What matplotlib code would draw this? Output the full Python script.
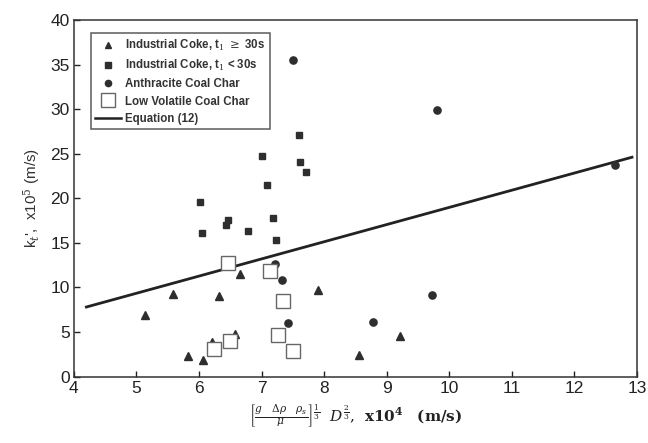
import matplotlib
matplotlib.use("Agg")
import matplotlib.pyplot as plt
import numpy as np
from matplotlib.lines import Line2D

plt.rcParams['font.family'] = ['Liberation Sans', 'DejaVu Sans']
plt.rcParams['mathtext.fontset'] = 'dejavuserif'

# Industrial Coke, t1 >= 30s (triangles)
tri_x = [5.14, 5.59, 5.83, 6.07, 6.20, 6.32, 6.58, 6.66, 7.90, 8.55, 9.22]
tri_y = [6.92, 9.27, 2.32, 1.84, 3.92, 9.05, 4.82, 11.5, 9.72, 2.40, 4.56]
# Industrial Coke, t1 < 30s (filled squares)
sq_x = [7.60, 7.00, 7.62, 7.71, 7.09, 6.01, 7.18, 6.47, 6.43, 6.05, 6.79, 7.23]
sq_y = [27.06, 24.78, 24.07, 22.98, 21.49, 19.59, 17.79, 17.57, 16.97, 16.07, 16.30, 15.32]
# Anthracite Coal Char (circles)
ci_x = [7.51, 7.22, 7.33, 7.42, 8.78, 9.72, 9.80, 12.65]
ci_y = [35.5, 12.6, 10.8, 6.02, 6.17, 9.16, 29.86, 23.7]
# Low Volatile Coal Char (open squares)
os_x = [6.46, 7.14, 7.34, 6.49, 6.24, 7.27, 7.50]
os_y = [12.71, 11.82, 8.49, 4.04, 3.10, 4.67, 2.88]
# Equation (12)
eq_x = [4.20, 12.92]
eq_y = [7.8, 24.6]

xticks = [4, 5, 6, 7, 8, 9, 10, 11, 12, 13]
yticks = [0, 5, 10, 15, 20, 25, 30, 35, 40]

fig = plt.figure(figsize=(6.48, 4.43), dpi=100)
ax = fig.add_axes([0.114, 0.150, 0.869, 0.805])

mc = '#2e2e2e'
ax.plot(eq_x, eq_y, '-', color='#222222', lw=2.0, zorder=2)
ax.plot(tri_x, tri_y, '^', color=mc, ms=6, ls='none', zorder=3)
ax.plot(sq_x, sq_y, 's', color=mc, ms=4.5, ls='none', zorder=3)
ax.plot(ci_x, ci_y, 'o', color=mc, ms=5.2, ls='none', zorder=3)
ax.plot(os_x, os_y, 's', mfc='white', mec='#666666', mew=1.0, ms=9.5, ls='none', zorder=3)

ax.set_xlim(4, 13)
ax.set_ylim(0, 40)
ax.set_xticks(xticks)
ax.set_yticks(yticks)
ax.tick_params(direction='in', length=4, width=1, labelsize=12.5, colors='#222222',
               top=False, right=False, pad=3)
for s in ax.spines.values():
    s.set_linewidth(1.1)
    s.set_color('#333333')

ax.set_ylabel(r"k$_t$',  x10$^5$ (m/s)", fontsize=11, color='#333333', labelpad=6)
ax.set_xlabel(r"$\left[\frac{g\quad\Delta\rho\quad\rho_s}{\mu}\right]^{\frac{1}{3}}\ \ D^{\frac{2}{3}}$,  $\mathbf{x10^4}$   $\mathbf{(m/s)}$",
              fontsize=11, color='#222222', family='DejaVu Serif', labelpad=5)

handles = [
    Line2D([], [], marker='^', color=mc, ls='none', ms=5),
    Line2D([], [], marker='s', color=mc, ls='none', ms=4),
    Line2D([], [], marker='o', color=mc, ls='none', ms=4.5),
    Line2D([], [], marker='s', mfc='white', mec='#666666', ls='none', ms=10),
    Line2D([], [], color='#222222', lw=1.8),
]
labels = [r"Industrial Coke, t$_1$ $\geq$ 30s", r"Industrial Coke, t$_1$ < 30s",
          "Anthracite Coal Char", "Low Volatile Coal Char", "Equation (12)"]
leg = ax.legend(handles, labels, loc='upper left', bbox_to_anchor=(0.03, 0.963),
                fontsize=8.3, frameon=True, fancybox=False, edgecolor='#333333',
                handlelength=2.2, handletextpad=0.4, borderpad=0.4, labelspacing=0.45,
                borderaxespad=0)
leg.get_frame().set_linewidth(1.1)
for t in leg.get_texts():
    t.set_fontweight('bold')
    t.set_color('#333333')

fig.savefig('out.png', dpi=100)
